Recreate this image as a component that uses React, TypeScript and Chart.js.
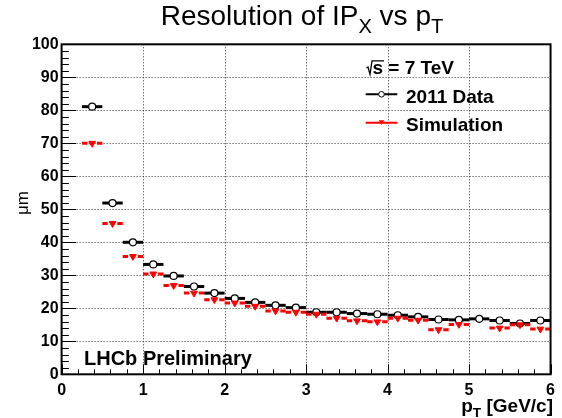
import React, { useEffect, useRef } from "react";
import { Chart, registerables } from "chart.js";

Chart.register(...registerables);

// ---- data ----
const binCenters = [
  0.375, 0.625, 0.875, 1.125, 1.375, 1.625, 1.875, 2.125, 2.375, 2.625, 2.875, 3.125,
  3.375, 3.625, 3.875, 4.125, 4.375, 4.625, 4.875, 5.125, 5.375, 5.625, 5.875,
];
const binHalfWidth = 0.125;
const data2011 = [
  81.1, 51.9, 40.0, 33.3, 29.8, 26.6, 24.6, 23.0, 21.8, 20.9, 20.2, 18.8,
  18.8, 18.4, 18.2, 17.9, 17.4, 16.6, 16.5, 16.8, 16.3, 15.4, 16.3,
];
const simulation: (number | null)[] = [
  70.0, 45.7, 35.7, 30.4, 26.9, 24.6, 22.6, 21.6, 20.6, 19.2, 18.8, 18.2,
  17.0, 16.2, 15.9, 17.0, 16.4, 13.5, 15.1, null, 14.0, 15.0, 13.7,
];
const xTickValues = [0, 1, 2, 3, 4, 5, 6];
const yTickValues = [0, 10, 20, 30, 40, 50, 60, 70, 80, 90, 100];
const xMinorStep = 0.2;
const yMinorStep = 2;

const titleParts = [
  { t: "Resolution of IP" },
  { t: "X", sub: true },
  { t: " vs p" },
  { t: "T", sub: true },
];
const xTitleParts = [{ t: "p" }, { t: "T", sub: true }, { t: " [GeV/c]" }];
const yTitle = "\u03bcm";
const energyLabel = " = 7 TeV";
const legendLabels = ["2011 Data", "Simulation"];
const watermark = "LHCb Preliminary";

const FONT = "'Liberation Sans', Arial, Helvetica, sans-serif";

type Part = { t: string; sub?: boolean };

function drawRich(
  ctx: CanvasRenderingContext2D,
  parts: Part[],
  x: number,
  y: number,
  align: "left" | "center" | "right",
  size: number,
  weight: string,
  subScale: number,
  subDrop: number
) {
  const fonts = parts.map((p) => `${weight} ${p.sub ? size * subScale : size}px ${FONT}`);
  const widths = parts.map((p, i) => {
    ctx.font = fonts[i];
    return ctx.measureText(p.t).width;
  });
  const total = widths.reduce((a, b) => a + b, 0);
  let cx = align === "left" ? x : align === "center" ? x - total / 2 : x - total;
  ctx.textAlign = "left";
  ctx.textBaseline = "alphabetic";
  parts.forEach((p, i) => {
    ctx.font = fonts[i];
    ctx.fillText(p.t, cx, p.sub ? y + subDrop : y);
    cx += widths[i];
  });
}

function downTriangle(ctx: CanvasRenderingContext2D, cx: number, cy: number, w: number) {
  const h = w * 0.866;
  ctx.beginPath();
  ctx.moveTo(cx - w / 2, cy - h / 2);
  ctx.lineTo(cx + w / 2, cy - h / 2);
  ctx.lineTo(cx, cy + h / 2);
  ctx.closePath();
  ctx.fill();
}

const rootLook = {
  id: "rootLook",
  beforeDatasetsDraw(chart: any) {
    const { ctx, chartArea: a, scales } = chart;
    const xs = scales.x;
    const ys = scales.y;
    ctx.save();
    ctx.strokeStyle = "#333";
    ctx.lineWidth = 1;
    ctx.setLineDash([1, 2]);
    for (const v of xTickValues) {
      if (v <= xs.min || v >= xs.max) continue;
      const px = Math.round(xs.getPixelForValue(v)) + 0.5;
      ctx.beginPath();
      ctx.moveTo(px, a.top);
      ctx.lineTo(px, a.bottom);
      ctx.stroke();
    }
    for (const v of yTickValues) {
      if (v <= ys.min || v >= ys.max) continue;
      const py = Math.round(ys.getPixelForValue(v)) + 0.5;
      ctx.beginPath();
      ctx.moveTo(a.left, py);
      ctx.lineTo(a.right, py);
      ctx.stroke();
    }
    ctx.restore();
  },
  beforeDatasetDraw(chart: any, args: any) {
    const { ctx, scales } = chart;
    const xs = scales.x;
    const ys = scales.y;
    const ds = chart.data.datasets[args.index];
    ctx.save();
    ctx.strokeStyle = ds.errColor;
    ctx.lineWidth = 3;
    ctx.lineCap = "butt";
    for (const p of ds.data) {
      const x0 = xs.getPixelForValue(p.x - binHalfWidth);
      const x1 = xs.getPixelForValue(p.x + binHalfWidth);
      const xc = xs.getPixelForValue(p.x);
      const py = ys.getPixelForValue(p.y);
      const g = ds.errGap;
      ctx.beginPath();
      if (g > 0) {
        ctx.moveTo(x0, py);
        ctx.lineTo(xc - g, py);
        ctx.moveTo(xc + g, py);
        ctx.lineTo(x1, py);
      } else {
        ctx.moveTo(x0, py);
        ctx.lineTo(x1, py);
      }
      ctx.stroke();
    }
    ctx.restore();
  },
  afterDatasetsDraw(chart: any) {
    const { ctx, chartArea: a, scales } = chart;
    const xs = scales.x;
    const ys = scales.y;
    ctx.save();
    ctx.setLineDash([]);
    // frame
    ctx.strokeStyle = "#000";
    ctx.lineWidth = 2;
    ctx.strokeRect(a.left, a.top, a.right - a.left, a.bottom - a.top);
    // ticks
    ctx.lineWidth = 1;
    ctx.beginPath();
    for (let v = ys.min; v <= ys.max + 1e-9; v += yMinorStep) {
      const py = Math.round(ys.getPixelForValue(v)) + 0.5;
      const major = yTickValues.some((t) => Math.abs(t - v) < 1e-6);
      ctx.moveTo(a.left, py);
      ctx.lineTo(a.left + (major ? 14.5 : 7.3), py);
    }
    for (let v = xs.min; v <= xs.max + 1e-9; v += xMinorStep) {
      const px = Math.round(xs.getPixelForValue(v)) + 0.5;
      const major = xTickValues.some((t) => Math.abs(t - v) < 1e-6);
      ctx.moveTo(px, a.bottom);
      ctx.lineTo(px, a.bottom - (major ? 10 : 5));
    }
    ctx.stroke();

    ctx.fillStyle = "#000";
    // title
    drawRich(ctx, titleParts, 302, 25, "center", 28, "normal", 0.72, 8);
    // x title
    drawRich(ctx, xTitleParts, 553, 412, "right", 19, "bold", 0.72, 5);
    // y title
    ctx.save();
    ctx.translate(28, 203);
    ctx.rotate(-Math.PI / 2);
    ctx.font = `normal 17px ${FONT}`;
    ctx.textAlign = "center";
    ctx.textBaseline = "alphabetic";
    ctx.fillText(yTitle, 0, 0);
    ctx.restore();

    // watermark
    ctx.font = `bold 20px ${FONT}`;
    ctx.textAlign = "left";
    ctx.textBaseline = "alphabetic";
    ctx.fillText(watermark, 84, 365);

    // energy label with radical
    const ex = 366.5;
    const eb = 74.3;
    ctx.lineWidth = 1.3;
    ctx.beginPath();
    ctx.moveTo(ex, 68);
    ctx.lineTo(ex + 1.5, 67);
    ctx.lineTo(ex + 3.5, eb);
    ctx.lineTo(ex + 5.5, 60.8);
    ctx.lineTo(ex + 17.5, 60.8);
    ctx.stroke();
    ctx.font = `bold 19px ${FONT}`;
    ctx.fillText("s", ex + 6, eb);
    const sw = ctx.measureText("s").width;
    ctx.fillText(energyLabel, ex + 6 + sw, eb);

    // legend
    const ds = chart.data.datasets;
    const rows = [94.3, 122.7];
    const baselines = [102.7, 131];
    rows.forEach((ry, i) => {
      ctx.strokeStyle = ds[i].errColor;
      ctx.lineWidth = 2;
      ctx.beginPath();
      ctx.moveTo(365.7, ry);
      ctx.lineTo(397.3, ry);
      ctx.stroke();
      if (i === 0) {
        ctx.fillStyle = "#fff";
        ctx.strokeStyle = "#000";
        ctx.lineWidth = 1;
        ctx.beginPath();
        ctx.arc(381.5, ry, 2.8, 0, Math.PI * 2);
        ctx.fill();
        ctx.stroke();
      } else {
        ctx.fillStyle = ds[i].errColor;
        downTriangle(ctx, 381.5, ry, 5.5);
      }
      ctx.fillStyle = "#000";
      ctx.font = `bold 19px ${FONT}`;
      ctx.fillText(legendLabels[i], 406, baselines[i]);
    });
    ctx.restore();
  },
};

export default function App() {
  const ref = useRef<HTMLCanvasElement | null>(null);
  useEffect(() => {
    if (!ref.current) return;
    const dataPts = binCenters.map((x, i) => ({ x, y: data2011[i] }));
    const simPts = binCenters
      .map((x, i) => ({ x, y: simulation[i] }))
      .filter((p) => p.y !== null) as { x: number; y: number }[];
    const chart = new Chart(ref.current, {
      type: "scatter",
      data: {
        datasets: [
          {
            label: legendLabels[0],
            data: dataPts,
            pointStyle: "circle",
            pointRadius: 3.5,
            pointBorderWidth: 1.2,
            pointBackgroundColor: "#ffffff",
            pointBorderColor: "#000000",
            order: 1,
            errColor: "#000000",
            errGap: 0,
          } as any,
          {
            label: legendLabels[1],
            data: simPts,
            pointStyle: "triangle",
            pointRotation: 180,
            pointRadius: 3.9,
            pointBorderWidth: 1,
            pointBackgroundColor: "#ff0000",
            pointBorderColor: "#ff0000",
            order: 0,
            errColor: "#ff0000",
            errGap: 4.8,
          } as any,
        ],
      },
      options: {
        responsive: false,
        devicePixelRatio: 1,
        animation: false,
        events: [],
        layout: { padding: { left: 0, right: 10.2, top: 44.3, bottom: 0 } },
        plugins: {
          legend: { display: false },
          tooltip: { enabled: false },
          title: { display: false },
        },
        scales: {
          x: {
            type: "linear",
            min: 0,
            max: 6,
            grid: { display: false, drawTicks: false },
            border: { display: false },
            ticks: {
              stepSize: 1,
              autoSkip: false,
              maxRotation: 0,
              padding: 7,
              color: "#000",
              font: { family: FONT, size: 16, weight: "bold" },
              callback: (v: any) => String(v),
            },
            afterFit: (s: any) => {
              s.height = 418 - 374.3;
            },
          },
          y: {
            type: "linear",
            min: 0,
            max: 100,
            grid: { display: false, drawTicks: false },
            border: { display: false },
            ticks: {
              stepSize: 10,
              autoSkip: false,
              padding: 3,
              color: "#000",
              font: { family: FONT, size: 16, weight: "bold" },
              callback: (v: any) => String(v),
            },
            afterFit: (s: any) => {
              s.width = 61.6;
            },
          },
        },
      },
      plugins: [rootLook],
    });
    return () => chart.destroy();
  }, []);
  return (
    <div style={{ position: "fixed", left: 0, top: 0, width: 562, height: 418, background: "#fff" }}>
      <canvas ref={ref} width={562} height={418} style={{ display: "block", width: 562, height: 418 }} />
    </div>
  );
}
